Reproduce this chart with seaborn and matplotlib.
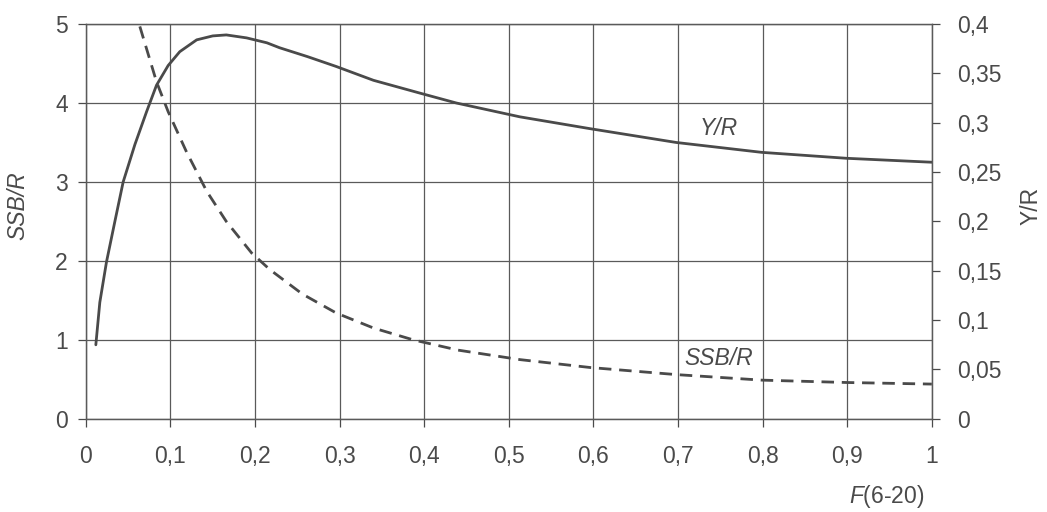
import matplotlib
matplotlib.use("Agg")
import matplotlib.pyplot as plt
import seaborn as sns
import pandas as pd

# Data
F_yr = [0.0118, 0.0165, 0.0244, 0.0343, 0.0441, 0.058, 0.0717, 0.0835, 0.0973, 0.111,
        0.131, 0.150, 0.166, 0.190, 0.214, 0.229, 0.262, 0.296, 0.340, 0.395, 0.438,
        0.513, 0.596, 0.698, 0.799, 0.899, 1.0]
YR = [0.075, 0.118, 0.159, 0.200, 0.240, 0.278, 0.311, 0.338, 0.358, 0.372,
      0.384, 0.388, 0.389, 0.386, 0.381, 0.376, 0.367, 0.357, 0.343, 0.330, 0.320,
      0.306, 0.294, 0.280, 0.270, 0.264, 0.260]
F_ssb = [0.0638, 0.0835, 0.0973, 0.119, 0.143, 0.166, 0.196, 0.2175, 0.256, 0.296,
         0.340, 0.387, 0.440, 0.513, 0.596, 0.698, 0.799, 0.899, 1.0]
SSBR = [4.97, 4.27, 3.89, 3.38, 2.88, 2.50, 2.10, 1.89, 1.58, 1.34,
        1.15, 1.00, 0.87, 0.75, 0.65, 0.56, 0.49, 0.46, 0.44]
x_ticks = [0, 0.1, 0.2, 0.3, 0.4, 0.5, 0.6, 0.7, 0.8, 0.9, 1]
x_labels = ["0", "0,1", "0,2", "0,3", "0,4", "0,5", "0,6", "0,7", "0,8", "0,9", "1"]
left_ticks = [0, 1, 2, 3, 4, 5]
right_ticks = [0, 0.05, 0.1, 0.15, 0.2, 0.25, 0.3, 0.35, 0.4]
right_labels = ["0", "0,05", "0,1", "0,15", "0,2", "0,25", "0,3", "0,35", "0,4"]

sns.set_style("ticks")
plt.rcParams['font.family'] = ['Liberation Sans', 'DejaVu Sans']
plt.rcParams['mathtext.fontset'] = 'custom'
plt.rcParams['mathtext.it'] = 'Liberation Sans:italic'
plt.rcParams['mathtext.rm'] = 'Liberation Sans'

ink = "#4a4a4a"
grid = "#5a5a5a"
fs = 16.5

fig = plt.figure(figsize=(10.47, 5.12), dpi=100)
ax = fig.add_axes([0.082, 0.182, 0.808, 0.771])
ax2 = ax.twinx()

df_ssb = pd.DataFrame({"F": F_ssb, "SSB/R": SSBR})
df_yr = pd.DataFrame({"F": F_yr, "Y/R": YR})

sns.lineplot(data=df_ssb, x="F", y="SSB/R", ax=ax, color=ink, lw=2.0,
             linestyle=(0, (4.5, 2.8)), sort=False)
sns.lineplot(data=df_yr, x="F", y="Y/R", ax=ax2, color=ink, lw=2.0, sort=False)

ax.set_xlim(0, 1)
ax.set_ylim(0, 5)
ax2.set_ylim(0, 0.4)

ax.set_xticks(x_ticks)
ax.set_xticklabels(x_labels)
ax.set_yticks(left_ticks)
ax2.set_yticks(right_ticks)
ax2.set_yticklabels(right_labels)

ax.grid(True, color=grid, lw=0.9)
ax.set_axisbelow(True)

for a in (ax, ax2):
    for s in a.spines.values():
        s.set_visible(True)
        s.set_color(grid)
        s.set_linewidth(0.9)
    a.tick_params(colors=ink, labelsize=fs, length=6, width=0.9, direction='out')
ax.tick_params(axis='x', pad=13)
ax2.tick_params(axis='y', pad=12)
ax.tick_params(axis='y', pad=7)

ax.set_ylabel("SSB/R", fontsize=fs, color=ink, style='italic')
ax.yaxis.set_label_coords(-0.067, 0.54)
ax2.set_ylabel("Y/R", fontsize=fs, color=ink)
ax2.yaxis.set_label_coords(1.104, 0.54)
ax.set_xlabel(r"$\mathit{F}$(6-20)", fontsize=fs, color=ink)
ax.xaxis.set_label_coords(0.947, -0.163)

ax.text(0.748, 3.68, "Y/R", fontsize=fs, color=ink, style='italic', ha='center', va='center')
ax.text(0.748, 0.77, "SSB/R", fontsize=fs, color=ink, style='italic', ha='center', va='center')

fig.savefig("out.png", dpi=100)
